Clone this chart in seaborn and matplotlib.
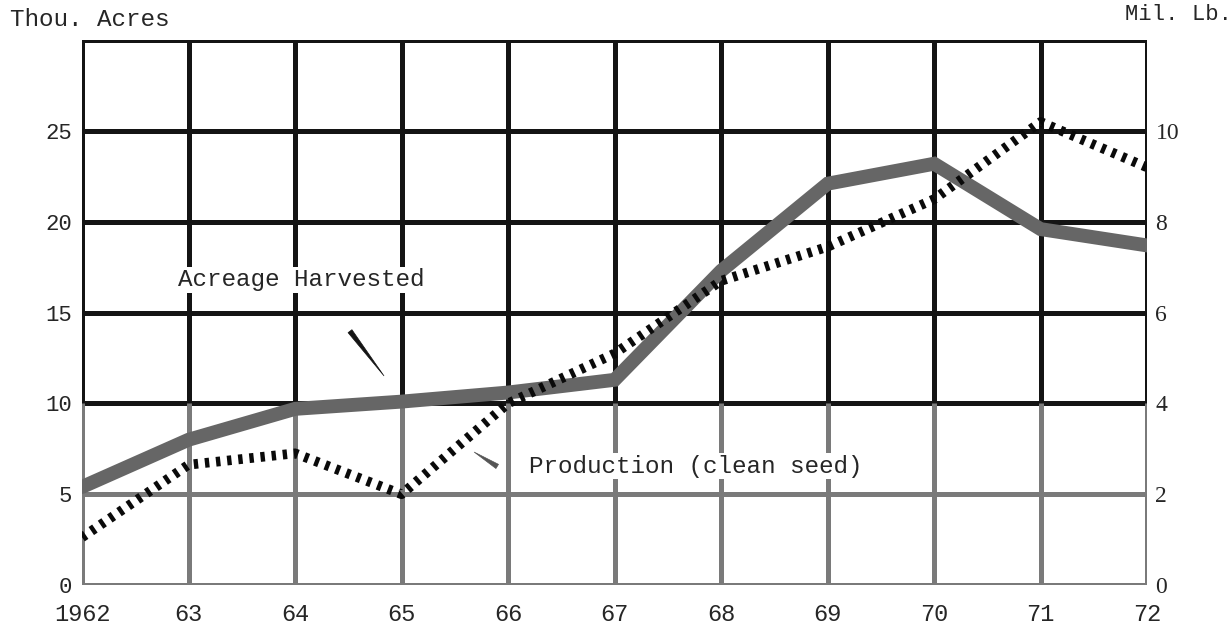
import matplotlib
matplotlib.use("Agg")
import matplotlib.pyplot as plt
import seaborn as sns
import pandas as pd

# values
years = [1962, 1963, 1964, 1965, 1966, 1967, 1968, 1969, 1970, 1971, 1972]
year_labels = ["1962", "63", "64", "65", "66", "67", "68", "69", "70", "71", "72"]
acreage = [5.4, 8.0, 9.7, 10.1, 10.6, 11.3, 17.3, 22.1, 23.2, 19.6, 18.7]      # thou. acres
production = [1.05, 2.65, 2.9, 2.0, 4.0, 5.1, 6.7, 7.45, 8.5, 10.2, 9.2]       # mil. lb
left_ticks = [0, 5, 10, 15, 20, 25]
right_ticks = [0, 2, 4, 6, 8, 10]

df = pd.DataFrame({"year": years, "acreage": acreage, "production": production})

sns.set_style("white")
plt.rcParams["font.family"] = ["Liberation Mono", "DejaVu Sans Mono"]

fig = plt.figure(figsize=(12.32, 6.39), dpi=100)
ax = fig.add_axes([0.0666, 0.0845, 0.8645, 0.8525])
ax.set_xlim(years[0], years[-1])
ax.set_ylim(0, 30)

black = "#141414"
gray = "#7a7a7a"

# grid: horizontal lines
for v in [10, 15, 20, 25, 30]:
    ax.axhline(v, color=black, lw=3.6, zorder=1)
for v in [0, 5]:
    ax.axhline(v, color=gray, lw=3.6, zorder=1)
# vertical lines: dark on top, faded lower down
for y in years:
    ax.vlines(y, 10, 30, color=black, lw=3.6, zorder=1)
    ax.vlines(y, 0, 10, color=gray, lw=3.6, zorder=1)

for s in ax.spines.values():
    s.set_visible(False)

sns.lineplot(data=df, x="year", y="acreage", ax=ax, color="#666666", lw=10,
             solid_joinstyle="miter", zorder=3)

ax2 = ax.twinx()
ax2.set_ylim(0, 12)
for s in ax2.spines.values():
    s.set_visible(False)
sns.lineplot(data=df, x="year", y="production", ax=ax2, color="#0a0a0a", lw=7,
             linestyle=(0, (0.45, 0.7)), zorder=4)

ax.set_xticks(years)
ax.set_xticklabels(year_labels, fontsize=17)
ax.set_yticks(left_ticks)
ax.set_yticklabels([str(t) for t in left_ticks], fontsize=16)
ax.tick_params(axis="x", length=0, pad=13)
ax.tick_params(axis="y", length=0, pad=7)
ax.set_xlabel("")
ax.set_ylabel("")

ax2.set_yticks(right_ticks)
ax2.set_yticklabels([str(t) for t in right_ticks], fontsize=17, family="Liberation Serif")
ax2.tick_params(axis="y", length=0, pad=6)
ax2.set_ylabel("")

fig.text(0.008, 0.969, "Thou. Acres", fontsize=17.5, ha="left", va="center")
fig.text(1.0, 0.977, "Mil. Lb.", fontsize=16, ha="right", va="center")

ax.text(1962.9, 16.8, "Acreage Harvested", fontsize=17.5, ha="left", va="center",
        zorder=5, bbox=dict(fc="white", ec="none", pad=1))
ax.annotate("", xy=(1964.85, 11.4), xytext=(1964.5, 14.1),
            arrowprops=dict(arrowstyle="wedge,tail_width=0.35", fc=black, ec=black, lw=0.5),
            zorder=5)
ax.text(1966.2, 6.55, "Production (clean seed)", fontsize=17.5, ha="left", va="center",
        zorder=5, bbox=dict(fc="white", ec="none", pad=1))
ax.annotate("", xy=(1965.66, 7.4), xytext=(1965.92, 6.45),
            arrowprops=dict(arrowstyle="wedge,tail_width=0.35", fc="#555555", ec="#555555", lw=0.5),
            zorder=5)

fig.savefig("out.png", dpi=100)
